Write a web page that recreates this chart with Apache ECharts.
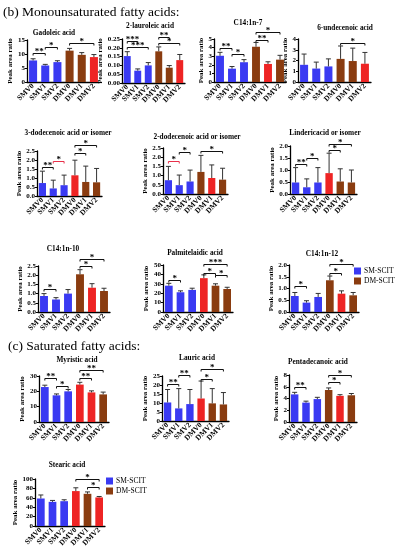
<!DOCTYPE html>
<html><head><meta charset="utf-8">
<script src="https://cdn.jsdelivr.net/npm/echarts@6/dist/echarts.min.js"></script>
<style>html,body{margin:0;padding:0;background:#fff}#c{width:397px;height:550px}</style>
</head><body><div id="c"></div>
<script>
// ---------- data ----------
const categories = ['SMV0','SMV1','SMV2','DMV0','DMV1','DMV2'];
const legendNames = ['SM-SCIT','DM-SCIT'];
const headerB = '(b) Monounsaturated fatty acids:';
const headerC = '(c) Saturated fatty acids:';
const yAxisName = 'Peak area ratio';
const chartTitles = ['Gadoleic acid','2-lauroleic acid','C14:1n-7','6-undecenoic acid',
  '3-dodecenoic acid or isomer','2-dodecenoic acid or isomer','Lindericacid or isomer',
  'C14:1n-10','Palmitelaidic acid','C14:1n-12',
  'Myristic acid','Lauric acid','Pentadecanoic acid','Stearic acid'];

const gadoleicMean = [7.7,5.9,7.1,11.2,9.7,8.9];
const gadoleicErr  = [0.6,0.4,0.5,0.8,0.8,0.9];
const gadoleicTicks = ['0','5','10','15'];
const gadoleicSig = [[0,1,10.5,'**'],[1,2,12.5,'*'],[3,5,14.1,'*']];

const lauroleicMean = [0.153,0.07,0.10,0.18,0.087,0.13];
const lauroleicErr  = [0.025,0.01,0.016,0.025,0.012,0.032];
const lauroleicTicks = ['0.00','0.05','0.10','0.15','0.20','0.25'];
const lauroleicSig = [[0,1,0.24,'***'],[0,2,0.205,'***'],[3,4,0.26,'**'],[3,5,0.225,'*']];

const c14n7Mean = [3.05,1.55,2.3,4.1,2.1,2.6];
const c14n7Err  = [0.4,0.25,0.3,0.5,0.25,0.5];
const c14n7Ticks = ['0','1','2','3','4','5'];
const c14n7Sig = [[0,1,3.9,'**'],[1,2,3.3,'*'],[3,4,4.85,'**'],[3,5,5.8,'*']];

const undecenoicMean = [1.6,1.25,1.45,2.15,1.95,1.7];
const undecenoicErr  = [1.0,0.6,0.7,1.2,1.2,1.05];
const undecenoicTicks = ['0','1','2','3','4'];
const undecenoicSig = [[3,5,3.65,'*']];

const dodecenoic3Mean = [0.72,0.42,0.6,1.15,0.78,0.76];
const dodecenoic3Err  = [0.66,0.46,0.56,0.84,0.88,0.77];
const dodecenoic3Ticks = ['0.0','0.5','1.0','1.5','2.0','2.5'];
const dodecenoic3Sig = [[0,1,1.6,'**'],[1,2,1.95,'*'],[3,4,2.4,'*'],[3,5,2.85,'*']];

const dodecenoic2Mean = [0.75,0.48,0.68,1.2,0.87,0.78];
const dodecenoic2Err  = [0.75,0.55,0.62,0.9,0.71,0.62];
const dodecenoic2Ticks = ['0.0','0.5','1.0','1.5','2.0','2.5'];
const dodecenoic2Sig = [[0,1,1.8,'*'],[1,2,2.3,'*'],[3,5,2.35,'*']];

const lindericMean = [0.48,0.28,0.48,0.87,0.52,0.48];
const lindericErr  = [0.62,0.35,0.62,0.83,0.53,0.52];
const lindericTicks = ['0.0','0.5','1.0','1.5','2.0'];
const lindericSig = [[0,1,1.25,'**'],[1,2,1.48,'*'],[3,4,1.83,'*'],[3,5,2.1,'*']];

const c14n10Mean = [0.87,0.68,1.0,2.05,1.32,1.14];
const c14n10Err  = [0.13,0.1,0.22,0.25,0.22,0.15];
const c14n10Ticks = ['0.0','0.5','1.0','1.5','2.0','2.5'];
const c14n10Sig = [[0,1,1.27,'*'],[3,4,2.5,'*'],[3,5,2.9,'*']];

const palmitelaidicMean = [28,21,23.5,36,28,24.5];
const palmitelaidicErr  = [2.5,1.5,1.8,3.5,2,1.8];
const palmitelaidicTicks = ['0','10','20','30','40','50'];
const palmitelaidicSig = [[0,1,34,'*'],[3,5,51,'***'],[3,4,41.5,'*'],[4,5,39,'*']];

const c14n12Mean = [0.68,0.4,0.64,1.35,0.78,0.71];
const c14n12Err  = [0.15,0.08,0.15,0.18,0.12,0.12];
const c14n12Ticks = ['0.0','0.5','1.0','1.5','2.0'];
const c14n12Sig = [[0,1,1.12,'*'],[3,4,1.68,'*'],[3,5,2.05,'*']];

const myristicMean = [22.8,17.4,20,24.4,19.3,18];
const myristicErr  = [1.2,0.9,1.2,1.5,1.0,1.5];
const myristicTicks = ['0','10','20','30'];
const myristicSig = [[0,1,29,'**'],[1,2,23.5,'*'],[3,4,29,'**'],[3,5,34,'**']];

const lauricMean = [10.3,7.0,9.4,12.5,9.8,9.2];
const lauricErr  = [7.2,11,8.1,9.7,8.2,6.6];
const lauricTicks = ['0','5','10','15','20','25'];
const lauricSig = [[0,1,20.8,'**'],[1,2,25.3,'**'],[3,4,23.6,'*'],[3,5,28.7,'*']];

const pentadecanoicMean = [4.7,3.3,3.9,5.45,4.45,4.55];
const pentadecanoicErr  = [0.35,0.25,0.3,0.35,0.2,0.3];
const pentadecanoicTicks = ['0','2','4','6','8'];
const pentadecanoicSig = [[0,1,5.9,'**'],[3,4,6.75,'*'],[3,5,8.0,'*']];

const stearicMean = [58.5,51.4,52.8,74.3,68.5,60.8];
const stearicErr  = [7.5,3,3,7,4,2];
const stearicTicks = ['0','20','40','60','80','100'];
const stearicSig = [[3,5,100,'*'],[4,5,84,'*']];

// ---------- styles / layout ----------
const BLUE = '#3a3af2', BROWN = '#8a3c10', RED = '#ee2424';
const FONT = "'Liberation Serif','Times New Roman',serif";
const dmTones = [
  [BROWN,BROWN,RED],[BROWN,BROWN,RED],[BROWN,RED,BROWN],[BROWN,BROWN,RED],
  [RED,BROWN,BROWN],[BROWN,RED,BROWN],[RED,BROWN,BROWN],
  [BROWN,RED,BROWN],[RED,BROWN,BROWN],[BROWN,RED,BROWN],
  [RED,RED,BROWN],[RED,BROWN,BROWN],[BROWN,RED,BROWN],[RED,BROWN,RED]];
const redBrackets = [[],[],[],[],[1],[0],[],[],[],[],[],[],[],[]];
const layout = [
 {l:27,t:40,w:73,h:42,tx:54,ty:33},
 {l:122,t:39,w:63,h:44,tx:150,ty:26},
 {l:214,t:39,w:72,h:43,tx:248,ty:23},
 {l:298,t:39,w:73,h:43,tx:345,ty:28},
 {l:37,t:151,w:65,h:45,tx:68,ty:133},
 {l:163,t:148,w:65,h:46,tx:197,ty:137},
 {l:290,t:146,w:67,h:48,tx:325,ty:133},
 {l:38,t:266,w:72,h:46,tx:63,ty:249},
 {l:163,t:265,w:70,h:47,tx:195,ty:253},
 {l:289,t:265,w:70,h:47,tx:322,ty:254},
 {l:39,t:376,w:70,h:46,tx:77,ty:360},
 {l:162,t:376,w:67,h:45,tx:197,ty:358},
 {l:289,t:375,w:68,h:47,tx:318,ty:362},
 {l:35,t:479,w:70,h:47,tx:67,ty:465}
];

const charts = [
  [gadoleicMean,gadoleicErr,gadoleicTicks,gadoleicSig],
  [lauroleicMean,lauroleicErr,lauroleicTicks,lauroleicSig],
  [c14n7Mean,c14n7Err,c14n7Ticks,c14n7Sig],
  [undecenoicMean,undecenoicErr,undecenoicTicks,undecenoicSig],
  [dodecenoic3Mean,dodecenoic3Err,dodecenoic3Ticks,dodecenoic3Sig],
  [dodecenoic2Mean,dodecenoic2Err,dodecenoic2Ticks,dodecenoic2Sig],
  [lindericMean,lindericErr,lindericTicks,lindericSig],
  [c14n10Mean,c14n10Err,c14n10Ticks,c14n10Sig],
  [palmitelaidicMean,palmitelaidicErr,palmitelaidicTicks,palmitelaidicSig],
  [c14n12Mean,c14n12Err,c14n12Ticks,c14n12Sig],
  [myristicMean,myristicErr,myristicTicks,myristicSig],
  [lauricMean,lauricErr,lauricTicks,lauricSig],
  [pentadecanoicMean,pentadecanoicErr,pentadecanoicTicks,pentadecanoicSig],
  [stearicMean,stearicErr,stearicTicks,stearicSig]
];

const grids = [], xAxes = [], yAxes = [], series = [], graphics = [];

graphics.push({type:'text', x:3, y:12, style:{text:headerB, font:'13.5px '+FONT, fill:'#000', textVerticalAlign:'middle'}});
graphics.push({type:'text', x:8, y:346, style:{text:headerC, font:'13.5px '+FONT, fill:'#000', textVerticalAlign:'middle'}});

charts.forEach((c, i) => {
  const [mean, err, ticks, sig] = c;
  const L = layout[i];
  const tv = ticks.map(Number);
  const step = tv[1] - tv[0];
  const maxLabelLen = Math.max(...ticks.map(s => s.replace('.', '').length * 3.5 + (s.includes('.') ? 1.75 : 0)));
  grids.push({left:L.l, top:L.t, width:L.w, height:L.h, containLabel:false, outerBoundsMode:'none'});
  xAxes.push({
    gridIndex:i, type:'category', data:categories,
    axisLine:{lineStyle:{color:'#000', width:1.3}},
    axisTick:{show:false},
    axisLabel:{rotate:45, interval:0, fontSize:7.5, fontWeight:'bold', fontFamily:FONT, color:'#000', margin:3}
  });
  yAxes.push({
    gridIndex:i, type:'value', min:tv[0], max:tv[tv.length-1], interval:step,
    axisLine:{show:true, lineStyle:{color:'#000', width:1.3}},
    axisTick:{show:true, length:2, lineStyle:{color:'#000', width:1}},
    splitLine:{show:false},
    axisLabel:{fontSize:7, fontWeight:'bold', fontFamily:FONT, color:'#000', margin:2,
      formatter: v => { const k = tv.findIndex(t => Math.abs(t - v) < 1e-9); return k >= 0 ? ticks[k] : ''; }},
    name:yAxisName, nameLocation:'middle', nameGap: maxLabelLen + 6,
    nameTextStyle:{fontSize:7, fontWeight:'bold', fontFamily:FONT, color:'#000'}
  });
  graphics.push({type:'text', x:L.tx, y:L.ty, style:{text:chartTitles[i], font:'bold 7.3px '+FONT, fill:'#000', textAlign:'center', textVerticalAlign:'middle'}});

  series.push({
    type:'bar', name:legendNames[0], xAxisIndex:i, yAxisIndex:i, barWidth:'66%', barGap:'-100%',
    itemStyle:{color:BLUE},
    data: mean.map((v,k) => k < 3 ? v : '-')
  });
  series.push({
    type:'bar', name:legendNames[1], xAxisIndex:i, yAxisIndex:i, barWidth:'66%', barGap:'-100%',
    itemStyle:{color:BROWN},
    data: mean.map((v,k) => k >= 3 ? {value:v, itemStyle:{color:dmTones[i][k-3]}} : '-')
  });
  series.push({
    type:'custom', xAxisIndex:i, yAxisIndex:i, z:5, silent:true,
    data: mean.map((v,k) => [k, v, err[k]]),
    encode:{x:0, y:1},
    renderItem:(params, api) => {
      const x = api.value(0), m = api.value(1), e = api.value(2);
      const p0 = api.coord([x, m]), p1 = api.coord([x, m + e]);
      const hw = 2.5;
      return {type:'group', children:[
        {type:'line', shape:{x1:p0[0], y1:p0[1], x2:p1[0], y2:p1[1]}, style:{stroke:'#333', lineWidth:1}},
        {type:'line', shape:{x1:p1[0]-hw, y1:p1[1], x2:p1[0]+hw, y2:p1[1]}, style:{stroke:'#333', lineWidth:1}}
      ]};
    }
  });
  series.push({
    type:'custom', xAxisIndex:i, yAxisIndex:i, z:6, silent:true, clip:false,
    data: sig.map(s => [s[0], s[1], s[2]]),
    encode:{x:0, y:2},
    renderItem:(params, api) => {
      const s = sig[params.dataIndex];
      const col = redBrackets[i].includes(params.dataIndex) ? '#e8304a' : '#111';
      const pa = api.coord([s[0], s[2]]), pb = api.coord([s[1], s[2]]);
      const y = Math.round(pa[1]) + 0.5;
      return {type:'group', children:[
        {type:'polyline', shape:{points:[[pa[0], y+2],[pa[0], y],[pb[0], y],[pb[0], y+2]]}, style:{stroke:col, lineWidth:1, fill:null}},
        {type:'text', x:(pa[0]+pb[0])/2, y:y+2.5, style:{text:s[3], font:'bold 9px '+FONT, fill:'#000', textAlign:'center', textVerticalAlign:'bottom'}}
      ]};
    }
  });
});

const legendCommon = {orient:'vertical', icon:'rect', itemWidth:7, itemHeight:7, itemGap:2, padding:0,
  data:legendNames, selectedMode:false, textStyle:{fontSize:7.5, fontFamily:FONT, color:'#000', padding:[0,0,0,-2]}};

const chart = echarts.init(document.getElementById('c'), null, {renderer:'canvas'});
chart.setOption({
  animation:false,
  backgroundColor:'#fff',
  grid:grids, xAxis:xAxes, yAxis:yAxes, series:series,
  legend:[Object.assign({left:354, top:267}, legendCommon), Object.assign({left:106, top:477}, legendCommon)],
  graphic:graphics
});
</script></body></html>
